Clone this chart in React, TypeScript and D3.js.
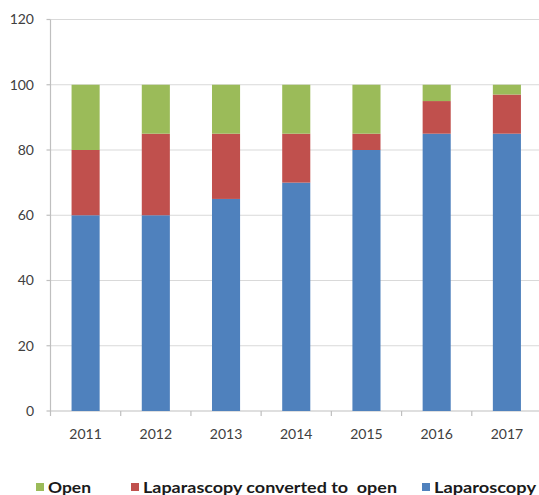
import React from "react";
import * as d3 from "d3";

const years = ["2011", "2012", "2013", "2014", "2015", "2016", "2017"];
const laparoscopy = [60, 60, 65, 70, 80, 85, 85];
const converted = [20, 25, 20, 15, 5, 10, 12];
const open = [20, 15, 15, 15, 15, 5, 3];
const yTicks = [0, 20, 40, 60, 80, 100, 120];

const seriesKeys = ["laparoscopy", "converted", "open"];
const seriesColors: Record<string, string> = {
  laparoscopy: "#4F81BD",
  converted: "#C0504D",
  open: "#9BBB59",
};

const legendItems = [
  { key: "open", label: "Open", x: 36, len: 43 },
  { key: "converted", label: "Laparascopy converted to  open", x: 131, len: 254 },
  { key: "laparoscopy", label: "Laparoscopy", x: 422, len: 102 },
];

export default function App() {
  const width = 539;
  const height = 495;
  const left = 50.5;
  const right = 542;
  const top = 19.5;
  const bottom = 411;

  const rows = years.map((y, i) => ({
    year: y,
    laparoscopy: laparoscopy[i],
    converted: converted[i],
    open: open[i],
  }));
  const stacked = d3.stack<any>().keys(seriesKeys)(rows);

  const x = d3.scaleBand().domain(years).range([left, right]).paddingInner(0.6).paddingOuter(0.3);
  const band = d3.scaleBand().domain(years).range([left, right]);
  const y = d3.scaleLinear().domain([0, 120]).range([bottom, top]);

  const font = "Lato, 'Open Sans', sans-serif";

  return (
    <svg width={width} height={height} style={{ position: "absolute", left: 0, top: 0 }}>
      <rect width={width} height={height} fill="#fff" />
      {yTicks.map((t) => (
        <g key={t}>
          <line x1={left} x2={right} y1={y(t)} y2={y(t)} stroke={t === 0 ? "#bfbfbf" : "#d9d9d9"} strokeWidth={1.2} />
          <line x1={left - 4} x2={left} y1={y(t)} y2={y(t)} stroke="#bfbfbf" strokeWidth={1.2} />
          <text x={34} y={y(t)} dy="0.35em" textAnchor="end" fontFamily={font} fontSize={14} fill="#404040">
            {t}
          </text>
        </g>
      ))}
      <line x1={left} x2={left} y1={top} y2={bottom} stroke="#bfbfbf" strokeWidth={1.2} />
      {years.map((yr) => (
        <line key={"tk" + yr} x1={band(yr)!} x2={band(yr)!} y1={bottom} y2={bottom + 5} stroke="#bfbfbf" strokeWidth={1.2} />
      ))}
      {stacked.map((s) => (
        <g key={s.key} fill={seriesColors[s.key]}>
          {s.map((d, i) => (
            <rect
              key={i}
              x={x(years[i])!}
              width={x.bandwidth()}
              y={y(d[1])}
              height={y(d[0]) - y(d[1])}
            />
          ))}
        </g>
      ))}
      {years.map((yr) => (
        <text
          key={"xl" + yr}
          x={band(yr)! + band.bandwidth() / 2}
          y={434}
          dy="0.35em"
          textAnchor="middle"
          fontFamily={font}
          fontSize={14}
          fill="#404040"
        >
          {yr}
        </text>
      ))}
      {legendItems.map((it) => (
        <g key={it.key}>
          <rect x={it.x} y={483} width={8} height={8} fill={seriesColors[it.key]} />
          <text
            x={it.x + 12}
            y={487.5}
            dy="0.35em"
            fontFamily={font}
            fontSize={16}
            fontWeight="bold"
            fill="#1a1a1a"
            textLength={it.len}
            lengthAdjust="spacingAndGlyphs"
            style={{ whiteSpace: "pre" }}
          >
            {it.label}
          </text>
        </g>
      ))}
    </svg>
  );
}
